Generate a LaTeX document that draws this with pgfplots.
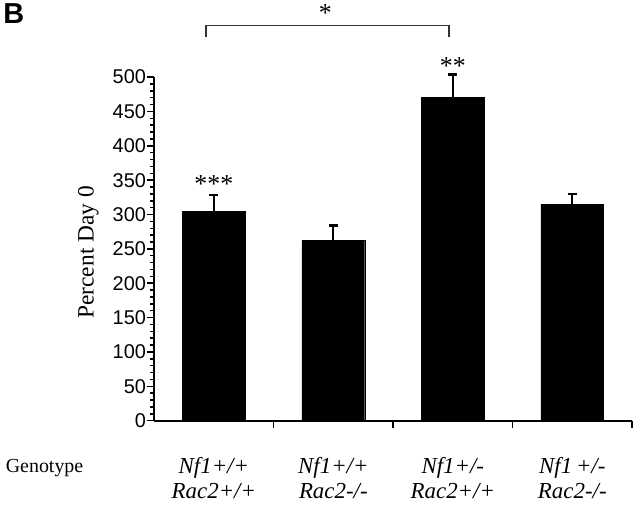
\documentclass[border=0pt]{standalone}
\usepackage{pgfplots}
\pgfplotsset{compat=1.18}
\usepackage{fontspec}
\setmainfont{Liberation Serif}
\newfontfamily\arial{Liberation Sans}

\begin{document}
\begin{tikzpicture}[x=1bp,y=1bp,
  gl/.style={font=\itshape\fontsize{23bp}{25bp}\selectfont, align=center},
  st/.style={font=\fontsize{26bp}{26bp}\selectfont}]
\begin{axis}[
  at={(0,0)}, anchor=south west,
  scale only axis,
  width=480bp, height=345bp,
  xmin=-0.5, xmax=3.5,
  ymin=0, ymax=500,
  axis x line=bottom, axis y line=left,
  axis line style={-, line width=1.8bp},
  xtick={0.5,1.5,2.5,3.5}, xticklabels={},
  ytick={0,50,...,500},
  minor y tick num=4,
  tick align=outside,
  major tick length=7bp, minor tick length=4bp,
  tick style={black, line width=1.5bp},
  /pgf/number format/assume math mode=true,
  yticklabel style={font=\arial\fontsize{20bp}{20bp}\selectfont, inner sep=1bp},
  clip=false,
]
\addplot[ybar, bar width=0.525, fill=black, draw=black,
  error bars/.cd, y dir=plus, y explicit,
  error bar style={line width=2.2bp},
  error mark options={rotate=90, mark size=4.5bp, line width=2.4bp}]
  table[x=x, y=y, y error=e] {
x y e
0 305 23
1 262 22
2 471 33
3 315 15
};
% significance marks
\node[st] at (axis cs:0,345) {***};
\node[st] at (axis cs:2,516) {**};
\node[st] at (axis cs:0.933,593) {*};
\draw[line width=1.4bp, black!80] (axis cs:-0.067,558) -- (axis cs:-0.067,575.4)
  -- (axis cs:1.967,575.4) -- (axis cs:1.967,558);
% panel letter
\node[font=\arial\bfseries\fontsize{29bp}{29bp}\selectfont] at (axis cs:-1.675,593) {B};
% y label
\node[rotate=90, font=\fontsize{23.5bp}{23.5bp}\selectfont] at (axis cs:-1.05,245) {Percent Day 0};
% genotype row
\node[font=\fontsize{20bp}{20bp}\selectfont] at (axis cs:-1.417,-69.6) {Genotype};
\node[gl] at (axis cs:0,-84) {Nf1+/+\\Rac2+/+};
\node[gl] at (axis cs:1,-84) {Nf1+/+\\Rac2-/-};
\node[gl] at (axis cs:2,-84) {Nf1+/-\\Rac2+/+};
\node[gl] at (axis cs:3,-84) {Nf1\,+/-\\Rac2-/-};
\end{axis}
\path (-152,-87) rectangle (488,422);
\end{tikzpicture}
\end{document}
